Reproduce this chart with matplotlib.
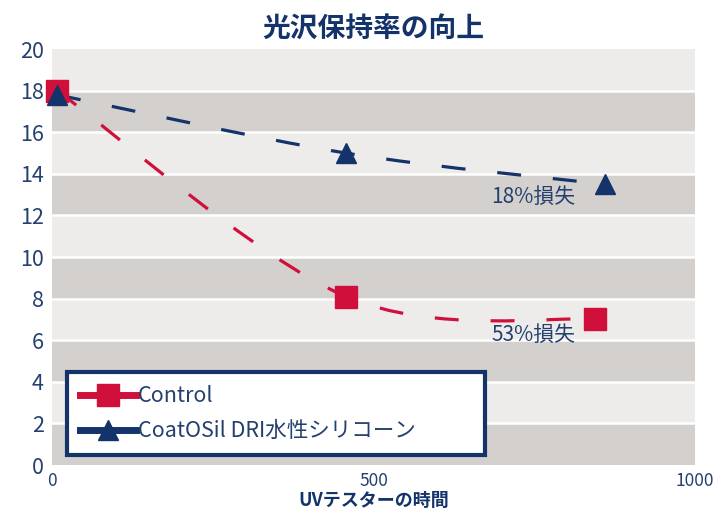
import matplotlib
matplotlib.use('Agg')
import matplotlib.pyplot as plt
from matplotlib.path import Path
from matplotlib.patches import PathPatch
from matplotlib.lines import Line2D
import numpy as np

plt.rcParams['font.family'] = ['Noto Sans CJK JP', 'DejaVu Sans']

#------------------------------------------------------------------------------
# DATA
title = '光沢保持率の向上'
xlabel = 'UVテスターの時間'

control_x = [8, 457, 845]
control_y = [18.0, 8.1, 7.0]

coatosil_x = [8, 457, 860]
coatosil_y = [17.8, 15.0, 13.5]

labels = ['Control', 'CoatOSil DRI水性シリコーン']
notes = ['18%損失', '53%損失']
note_x = [749, 749]
note_y = [12.9, 6.25]

xticks = [0, 500, 1000]
yticks = [0, 2, 4, 6, 8, 10, 12, 14, 16, 18, 20]

#------------------------------------------------------------------------------
# COLOURS
red = '#d0103a'
navy = '#13336a'
textc = '#24406e'
dark_band = '#d4d0cd'
light_band = '#edeceb'


def smooth_path(xs, ys):
    # Catmull-Rom style bezier, like a "smoothed line" in a spreadsheet chart
    p = np.column_stack([xs, ys]).astype(float)
    n = len(p)
    verts = [p[0]]
    codes = [Path.MOVETO]
    for i in range(n - 1):
        p0 = p[i - 1] if i > 0 else p[i]
        p3 = p[i + 2] if i + 2 < n else p[i + 1]
        c1 = p[i] + (p[i + 1] - p0) / 6.0
        c2 = p[i + 1] - (p3 - p[i]) / 6.0
        verts += [c1, c2, p[i + 1]]
        codes += [Path.CURVE4] * 3
    return Path(verts, codes)


fig = plt.figure(figsize=(7.15, 5.11), dpi=100)
ax = fig.add_axes([0.0727, 0.09, 0.8993, 0.814])

# alternating bands with white separators
for k in range(10):
    ax.axhspan(2 * k, 2 * k + 2, color=dark_band if k % 2 == 0 else light_band, lw=0, zorder=0)
for yv in yticks[1:-1]:
    ax.axhline(yv, color='white', lw=1.8, zorder=1)

# smoothed dashed lines
for xs, ys, c in [(coatosil_x, coatosil_y, navy), (control_x, control_y, red)]:
    patch = PathPatch(smooth_path(xs, ys), facecolor='none', edgecolor=c, lw=2.3,
                      linestyle=(0, (7.5, 10)), zorder=3, capstyle='butt')
    ax.add_patch(patch)

ax.plot(control_x, control_y, ls='none', marker='s', ms=16, color=red, mec=red,
        zorder=4, clip_on=False)
ax.plot(coatosil_x, coatosil_y, ls='none', marker='^', ms=15, color=navy, mec=navy,
        zorder=5, clip_on=False)

for t, xx, yy in zip(notes, note_x, note_y):
    ax.text(xx, yy, t, fontsize=15, color=textc, ha='center', va='center', zorder=6)

ax.set_xlim(0, 1000)
ax.set_ylim(0, 20)
ax.set_xticks(xticks)
ax.set_yticks(yticks)
ax.tick_params(length=0, colors=textc, labelsize=15.5)
ax.tick_params(axis='x', labelsize=12.5, pad=5)
ax.tick_params(axis='y', pad=6)
for s in ax.spines.values():
    s.set_visible(False)

ax.set_title(title, fontsize=20, fontweight='bold', color=navy, pad=9)
ax.set_xlabel(xlabel, fontsize=13, fontweight='bold', color=navy, labelpad=1)

handles = [
    Line2D([], [], color=red, lw=5, marker='s', ms=16),
    Line2D([], [], color=navy, lw=5, marker='^', ms=14),
]
leg = ax.legend(handles, labels, loc='lower left', bbox_to_anchor=(0.023, 0.024, 0.65, 0.2),
                mode='expand', fancybox=False, framealpha=1, facecolor='white',
                edgecolor=navy, fontsize=15.5, handlelength=2.6, handletextpad=0.1,
                labelspacing=0.6, borderpad=0.6, borderaxespad=0)
leg.get_frame().set_linewidth(3)
for t in leg.get_texts():
    t.set_color(textc)
leg.set_zorder(7)

fig.savefig('out.png', dpi=100)
